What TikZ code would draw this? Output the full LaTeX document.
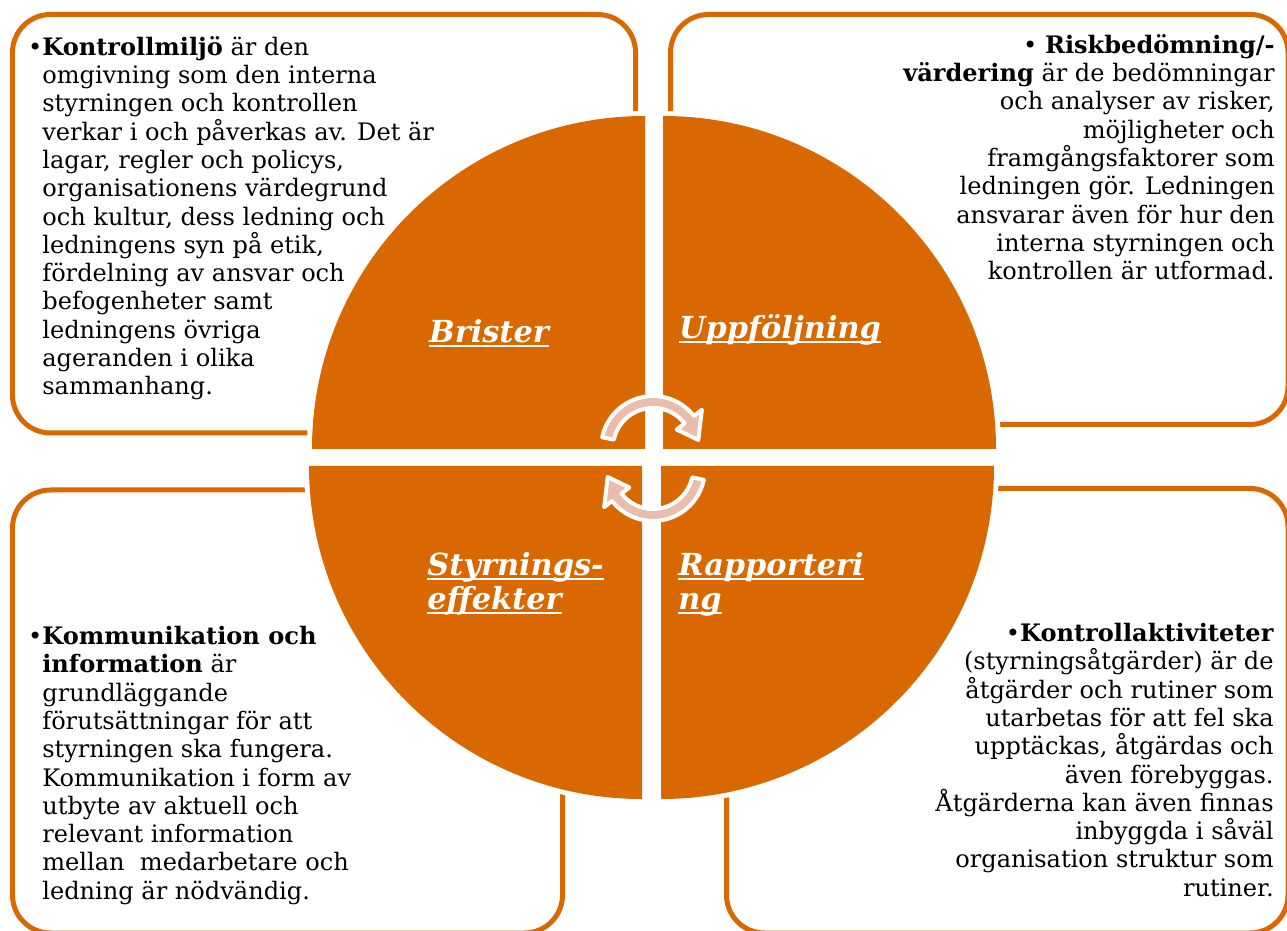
\documentclass[tikz,border=0pt]{standalone}
\usepackage{fontspec}
\setmainfont{DejaVu Serif}

\definecolor{boxorange}{RGB}{217,104,0}
\definecolor{arrowpink}{RGB}{234,188,174}

% underline at a fixed depth below the baseline
\newcommand{\quadul}[1]{\setbox0\hbox{#1}\rlap{\copy0}\rule[-2.6pt]{\wd0}{1.1pt}}

\tikzset{
  infobox/.style={draw=boxorange, line width=0.1cm, rounded corners=0.76cm},
  quarter/.style={fill=boxorange, preaction={draw=white, fill=white, line width=0.2cm}},
  bodytext/.style={inner sep=0pt, text=black, font=\fontsize{13.7}{16.1}\selectfont},
  quadlabel/.style={inner sep=0pt, text=white, font=\fontsize{17.3}{19.5}\selectfont\bfseries\itshape},
  cyclearrow/.style={fill=arrowpink, draw=white, line width=0.08cm, line join=round}
}

\begin{document}
\begin{tikzpicture}[x=0.02cm, y=0.02cm]
    \clip (0,0) rectangle (1287,930);

    % Four text frames
    \draw[infobox] (12.5,497) rectangle (635.5,915.5);
    \draw[infobox] (670.5,505.5) rectangle (1288,915.5);
    \draw[infobox] (12.5,-3) rectangle (562.5,440);
    \draw[infobox] (726.5,-3) rectangle (1288,441.5);

    % Circle split in quarters
    \path[quarter] (645,481) -- ++(-333,0) arc[start angle=180, end angle=90, radius=333] -- cycle;
    \path[quarter] (663,481) -- ++(333,0) arc[start angle=0, end angle=90, radius=333] -- cycle;
    \path[quarter] (642,464) -- ++(-333,0) arc[start angle=180, end angle=270, radius=333] -- cycle;
    \path[quarter] (661,464) -- ++(333,0) arc[start angle=0, end angle=-90, radius=333] -- cycle;

    % Cycle arrows in the middle
    \begin{scope}[shift={(653,482)}]
      \path[cyclearrow] (168:52) arc[start angle=168, end angle=38, radius=52]
        -- (38:62) -- (10:46) -- (38:30) -- (38:40)
        arc[start angle=38, end angle=168, radius=40] -- cycle;
    \end{scope}
    \begin{scope}[shift={(653,461)}]
      \path[cyclearrow] (348:52) arc[start angle=348, end angle=218, radius=52]
        -- (218:62) -- (190:46) -- (218:30) -- (218:40)
        arc[start angle=218, end angle=348, radius=40] -- cycle;
    \end{scope}

    % Quarter labels
    \node[quadlabel] (brister) at (489,597) {\quadul{Brister}};
    \node[quadlabel] (uppfoljning) at (780,600) {\quadul{Uppföljning}};
    \node[quadlabel, anchor=west, align=left] (styrning) at (427,346) {\quadul{Styrnings-}\\\quadul{effekter}};
    \node[quadlabel, anchor=west, align=left] (rapport) at (678,346) {\quadul{Rapporteri}\\\quadul{ng}};

    % Texts in the frames
    \node[bodytext, anchor=north west, align=left] (kontrollmiljo) at (42,894)
      {\llap{•}\textbf{Kontrollmiljö} är den\\
       omgivning som den interna\\
       styrningen och kontrollen\\
       verkar i och påverkas av. Det är\\
       lagar, regler och policys,\\
       organisationens värdegrund\\
       och kultur, dess ledning och\\
       ledningens syn på etik,\\
       fördelning av ansvar och\\
       befogenheter samt\\
       ledningens övriga\\
       ageranden i olika\\
       sammanhang.};
    \node[bodytext, anchor=north east, align=right] (riskbedomning) at (1275,896)
      {• \textbf{Riskbedömning/-}\\
       \textbf{värdering} är de bedömningar\\
       och analyser av risker,\\
       möjligheter och\\
       framgångsfaktorer som\\
       ledningen gör. Ledningen\\
       ansvarar även för hur den\\
       interna styrningen och\\
       kontrollen är utformad.};
    \node[bodytext, anchor=north west, align=left] (kommunikation) at (42,304)
      {\llap{•}\textbf{Kommunikation och}\\
       \textbf{information} är\\
       grundläggande\\
       förutsättningar för att\\
       styrningen ska fungera.\\
       Kommunikation i form av\\
       utbyte av aktuell och\\
       relevant information\\
       mellan\ \ medarbetare och\\
       ledning är nödvändig.};
    \node[bodytext, anchor=north east, align=right] (kontrollakt) at (1274,307)
      {•\textbf{Kontrollaktiviteter}\\
       (styrningsåtgärder) är de\\
       åtgärder och rutiner som\\
       utarbetas för att fel ska\\
       upptäckas, åtgärdas och\\
       även förebyggas.\\
       Åtgärderna kan även finnas\\
       inbyggda i såväl\\
       organisation struktur som\\
       rutiner.};
\end{tikzpicture}
\end{document}
